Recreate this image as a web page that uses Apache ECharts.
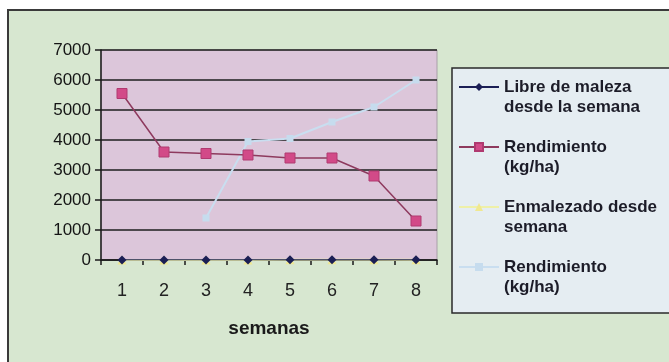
<!DOCTYPE html>
<html>
<head>
<meta charset="utf-8">
<script src="https://cdn.jsdelivr.net/npm/echarts@6/dist/echarts.min.js"></script>
<style>
html,body{margin:0;padding:0;background:#fff;}
#chart{width:669px;height:362px;}
</style>
</head>
<body>
<div id="chart"></div>
<script>
// Data
var weeks = ['1', '2', '3', '4', '5', '6', '7', '8'];
var yTicks = [0, 1000, 2000, 3000, 4000, 5000, 6000, 7000];
var libreDeMaleza = [1, 2, 3, 4, 5, 6, 7, 8];
var rendimientoLibre = [5550, 3600, 3550, 3500, 3400, 3400, 2800, 1300];
var enmalezado = [1, 2, 3, 4, 5, 6, 7, 8];
var rendimientoEnmalezado = [null, null, 1400, 3950, 4050, 4600, 5100, 6000];

var names = [
  'Libre de maleza\ndesde la semana',
  'Rendimiento\n(kg/ha)',
  'Enmalezado desde\nsemana',
  'Rendimiento\n(kg/ha) '
];

var chart = echarts.init(document.getElementById('chart'), null, {renderer: 'canvas'});
chart.setOption({
  animation: false,
  backgroundColor: '#ffffff',
  graphic: [{
    type: 'rect',
    z: -10,
    shape: {x: 8, y: 10, width: 720, height: 420},
    style: {fill: '#d7e7d0', stroke: '#3a3a3a', lineWidth: 2}
  }, {
    type: 'rect',
    z: -5,
    shape: {x: 452, y: 68, width: 240, height: 245},
    style: {fill: '#e5edf2', stroke: '#2a2a2a', lineWidth: 1.5}
  }],
  grid: {
    left: 101, right: 232, top: 50, bottom: 102,
    show: true,
    backgroundColor: '#dcc6da',
    borderColor: '#a9a0a8',
    borderWidth: 1
  },
  legend: {
    left: 452, top: 57,
    orient: 'vertical',
    data: names,
    itemWidth: 40,
    itemHeight: 10,
    itemGap: 0,
    padding: [0, 0, 0, 6],
    selectedMode: false,
    formatter: function (name) { return '\n' + name; },
    textStyle: {
      fontFamily: 'Liberation Sans, Arial, sans-serif',
      fontWeight: 'bold',
      fontSize: 17,
      lineHeight: 20,
      color: '#1c1c28'
    }
  },
  xAxis: {
    type: 'category',
    data: weeks,
    boundaryGap: true,
    name: 'semanas',
    nameLocation: 'middle',
    nameGap: 59,
    nameTextStyle: {
      fontFamily: 'Liberation Sans Narrow, Liberation Sans, sans-serif',
      fontWeight: 'bold',
      fontSize: 19,
      color: '#1a1a1a'
    },
    axisLine: {show: true, lineStyle: {color: '#1a1a1a', width: 1.5}},
    axisTick: {show: true, length: 5, lineStyle: {color: '#1a1a1a', width: 1.5}},
    axisLabel: {
      margin: 22,
      fontFamily: 'Liberation Sans, Arial, sans-serif',
      fontSize: 18,
      color: '#222'
    },
    splitLine: {show: false}
  },
  yAxis: {
    type: 'value',
    min: yTicks[0],
    max: yTicks[yTicks.length - 1],
    interval: 1000,
    axisLine: {show: true, lineStyle: {color: '#1a1a1a', width: 1.5}},
    axisTick: {show: true, length: 6, lineStyle: {color: '#1a1a1a', width: 1.5}},
    axisLabel: {
      margin: 10,
      formatter: function (v) { return String(v); },
      fontFamily: 'Liberation Sans Narrow, Liberation Sans, sans-serif',
      fontSize: 17,
      color: '#151515'
    },
    splitLine: {show: true, lineStyle: {color: '#1e1e1e', width: 1.6}}
  },
  series: [
    {
      name: names[0], type: 'line', data: libreDeMaleza, z: 4,
      symbol: 'diamond', symbolSize: 9,
      lineStyle: {color: '#1b1f55', width: 1.2},
      itemStyle: {color: '#1b1f55'}
    },
    {
      name: names[1], type: 'line', data: rendimientoLibre, z: 5,
      symbol: 'rect', symbolSize: 10,
      lineStyle: {color: '#8e3a5e', width: 1.5},
      itemStyle: {color: '#d24a88', borderColor: '#b03a70', borderWidth: 1}
    },
    {
      name: names[2], type: 'line', data: enmalezado, z: 2,
      symbol: 'triangle', symbolSize: 9,
      lineStyle: {color: '#eef0a8', width: 2},
      itemStyle: {color: '#f0e890'}
    },
    {
      name: names[3], type: 'line', data: rendimientoEnmalezado, z: 3,
      symbol: 'rect', symbolSize: 7,
      lineStyle: {color: '#c9def0', width: 2},
      itemStyle: {color: '#c6dcee'}
    }
  ]
});
</script>
</body>
</html>
